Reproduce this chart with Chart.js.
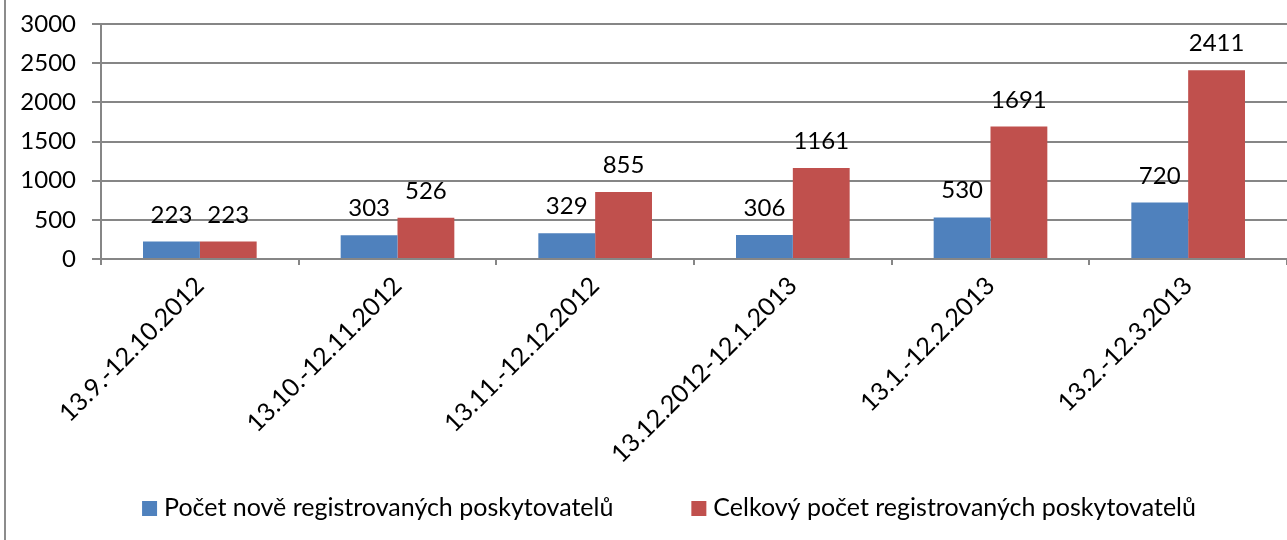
<!DOCTYPE html>
<html>
<head>
<meta charset="utf-8">
<script src="https://cdn.jsdelivr.net/npm/chart.js@4"></script>
<style>
html,body{margin:0;padding:0;background:#fff;}
#wrap{position:relative;width:1287px;height:540px;overflow:hidden;}
#border{position:absolute;left:4px;top:0;width:0;height:540px;border-left:2px solid #8c8c8c;}
canvas{position:absolute;left:0;top:0;}
</style>
</head>
<body>
<div id="wrap">
<canvas id="c" width="1287" height="540"></canvas>
<div id="border"></div>
</div>
<script>
const categories = ["13.9.-12.10.2012","13.10.-12.11.2012","13.11.-12.12.2012","13.12.2012-12.1.2013","13.1.-12.2.2013","13.2.-12.3.2013"];
const newProviders = [223, 303, 329, 306, 530, 720];
const totalProviders = [223, 526, 855, 1161, 1691, 2411];
const seriesNames = ["Počet nově registrovaných poskytovatelů", "Celkový počet registrovaných poskytovatelů"];
const seriesColors = ['#4F81BD', '#C0504D'];
const yTicks = [0, 500, 1000, 1500, 2000, 2500, 3000];

const FONT = "Lato";
const labelPlugin = {
  id: 'barLabels',
  afterDatasetsDraw(chart) {
    const ctx = chart.ctx;
    ctx.save();
    ctx.font = "24px " + FONT;
    ctx.fillStyle = "#000";
    ctx.textAlign = "center";
    ctx.textBaseline = "alphabetic";
    chart.data.datasets.forEach((ds, i) => {
      const meta = chart.getDatasetMeta(i);
      meta.data.forEach((bar, j) => {
        ctx.fillText(String(ds.data[j]), bar.x, bar.y - 19);
      });
    });
    ctx.restore();
  }
};

const legendPlugin = {
  id: 'bottomLegend',
  afterDraw(chart) {
    const ctx = chart.ctx;
    ctx.save();
    ctx.font = "25px " + FONT;
    ctx.textBaseline = "alphabetic";
    ctx.textAlign = "left";
    const box = 15, gap = 7, spacing = 78;
    const items = chart.data.datasets.map(ds => ({ text: ds.label, color: ds.backgroundColor, w: ctx.measureText(ds.label).width }));
    let total = 0;
    items.forEach((it, i) => { total += box + gap + it.w + (i ? spacing : 0); });
    let x = 669 - total / 2;
    const baseline = 516;
    items.forEach((it, i) => {
      if (i) x += spacing;
      ctx.fillStyle = it.color;
      ctx.fillRect(x, baseline - 15, box, box);
      ctx.fillStyle = '#000';
      ctx.fillText(it.text, x + box + gap, baseline);
      x += box + gap + it.w;
    });
    ctx.restore();
  }
};

new Chart(document.getElementById('c'), {
  type: 'bar',
  data: {
    labels: categories,
    datasets: [
      { label: seriesNames[0], data: newProviders, backgroundColor: seriesColors[0], borderWidth: 0 },
      { label: seriesNames[1], data: totalProviders, backgroundColor: seriesColors[1], borderWidth: 0 }
    ]
  },
  options: {
    responsive: false,
    animation: false,
    devicePixelRatio: 1,
    layout: { padding: { left: 8, right: 0, top: 24, bottom: 60 } },
    datasets: { bar: { categoryPercentage: 0.575, barPercentage: 1.0 } },
    plugins: {
      legend: { display: false },
      tooltip: { enabled: false }
    },
    scales: {
      x: {
        afterFit(scale) { scale.height = 221; scale.paddingLeft = 0; scale.paddingRight = 0; },
        grid: { display: true, drawOnChartArea: false, drawTicks: true, tickLength: 6, color: '#868686', offset: true, lineWidth: 2 },
        border: { color: '#868686', width: 2 },
        ticks: { font: { family: FONT, size: 25 }, color: '#000', maxRotation: 45, minRotation: 45, padding: 6 }
      },
      y: {
        min: 0, max: 3000,
        afterFit(scale) { scale.width = 93; scale.paddingTop = 0; scale.paddingBottom = 0; },
        afterBuildTicks(scale) { scale.ticks = yTicks.map(v => ({ value: v })); },
        grid: { color: '#868686', lineWidth: 2, tickLength: 9 },
        border: { color: '#868686', width: 2 },
        ticks: { font: { family: FONT, size: 24 }, color: '#000', padding: 16, callback: v => String(v) }
      }
    }
  },
  plugins: [labelPlugin, legendPlugin]
});
</script>
</body>
</html>
